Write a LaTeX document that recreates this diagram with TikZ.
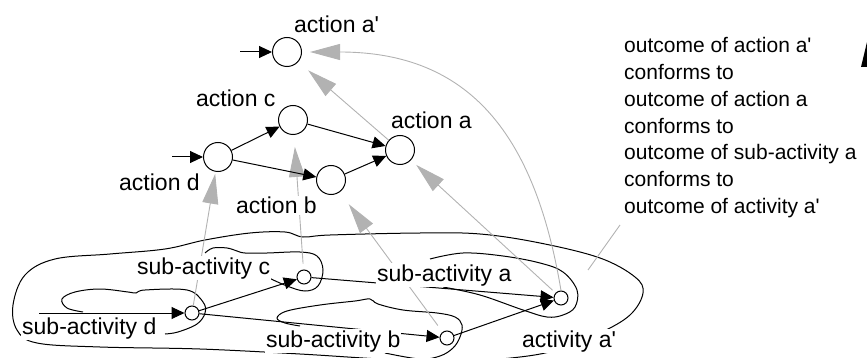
\documentclass[tikz,border=0pt]{standalone}
\usepackage{fontspec}
\setmainfont{Liberation Sans}
\usetikzlibrary{arrows.meta}
\newcommand{\apos}{\textquotesingle}
\begin{document}
\begin{tikzpicture}[x=1pt,y=-1pt,
  big/.style={circle,draw,line width=1pt,minimum size=29pt,inner sep=0pt,fill=white},
  small/.style={circle,draw,line width=1pt,minimum size=14pt,inner sep=0pt,fill=white},
  lbl/.style={font=\fontsize{23}{27}\selectfont,fill=white,inner sep=1pt,anchor=base west},
  txt/.style={font=\fontsize{21}{26}\selectfont,inner sep=0pt,anchor=base west},
  flow/.style={line width=1pt,-{Triangle[length=13pt,width=12pt]}},
  conf/.style={draw=black!30,line width=0.9pt,-{Triangle[length=30pt,width=16pt,fill=black!30]}},
  bubble/.style={line width=1pt},
]
\useasboundingbox (0,0) rectangle (867,358);
\clip (0,0) rectangle (867,358);
% actions
\node[big] (ap) at (287,52) {};
\node[big] (ac) at (293,120) {};
\node[big] (ad) at (218,157) {};
\node[big] (aa) at (400,150) {};
\node[big] (ab) at (331,180) {};
% sub-activities
\node[small] (sd) at (192,313) {};
\node[small] (sc) at (304,277) {};
\node[small] (sb) at (447,338) {};
\node[small] (aap) at (561,298) {};
% bubbles
\draw[bubble] plot[smooth cycle,tension=0.6] coordinates {(13,305) (25,275) (55,259) (110,254) (165,249) (205,240) (250,233) (285,232) (303,237) (330,235) (420,233) (480,234) (540,243) (600,258) (635,277) (643,293) (630,315) (600,333) (560,349) (520,357) (450,362) (380,359) (300,354) (200,349) (100,347) (37,343) (17,330)};
\draw[bubble] plot[smooth,tension=0.6] coordinates {(83,312) (67,308) (62,299) (75,292) (100,289) (128,292) (136,293) (145,290) (187,290) (203,302) (205,313) (197,324) (178,332) (165,334)};
\draw[bubble] plot[smooth,tension=0.6] coordinates {(205,253) (213,248) (227,248) (237,251) (245,253) (267,253) (300,252) (317,256) (323,270) (318,286) (305,291) (287,286) (267,277)};
\draw[bubble] plot[smooth,tension=0.6] coordinates {(430,259) (463,253) (503,256) (540,263) (563,272) (577,290) (575,307) (563,315) (547,317) (523,310) (480,295) (443,287)};
\draw[bubble] plot[smooth,tension=0.6] coordinates {(300,326) (285,323) (277,318) (287,311) (320,305) (355,301) (370,299) (378,304) (403,310) (437,313) (455,317) (462,325) (460,337) (453,348) (440,356) (420,359) (385,353)};
% conformance arrows
\draw[conf,shorten >=2pt] (sd) -- (ad);
\draw[conf,shorten <=6pt,shorten >=12pt] (sc) -- (ac);
\draw[conf,shorten <=8pt,shorten >=15pt] (sb) -- (ab);
\draw[conf,shorten <=4pt,shorten >=7pt] (aap) -- (aa);
\draw[conf,shorten >=13pt] (aa) -- (ap);
\draw[conf,shorten >=8pt] (aap.north) .. controls (535,135) and (470,52) .. (ap.east);
\coordinate (n1) at (620,225);
\coordinate (n2) at (588,270);
\draw[black!30,line width=0.9pt] (n1) -- (n2);
% flow arrows
\coordinate (inap) at (240,52);
\coordinate (inad) at (172,157);
\coordinate (insd) at (39,313);
\draw[flow] (inap) -- (ap);
\draw[flow] (inad) -- (ad);
\draw[flow] (insd) -- (sd);
\draw[flow] (ad) -- (ac);
\draw[flow] (ad) -- (ab);
\draw[flow] (ac) -- (aa);
\draw[flow] (ab) -- (aa);
\draw[flow] (sd) -- (sc);
\draw[flow] (sd) -- (sb);
\draw[flow] (sc) -- (aap);
\draw[flow] (sb) -- (aap);
% labels
\node[lbl] (lap) at (293,33) {action a\apos};
\node[lbl] (lac) at (195,107) {action c};
\node[lbl] (lad) at (118,190) {action d};
\node[lbl] (laa) at (390,129) {action a};
\node[lbl] (lab) at (235,214) {action b};
\node[lbl] (lsc) at (136,274) {sub-activity c};
\node[lbl] (lsd) at (21,334) {sub-activity d};
\node[lbl] (lsb) at (265,347) {sub-activity b};
\node[lbl] (lsa) at (376,281) {sub-activity a};
\node[lbl] (laap) at (521,347) {activity a\apos};
% annotation
\node[txt] (t1) at (624,53) {outcome of action a\apos};
\node[txt] (t2) at (624,79.7) {conforms to};
\node[txt] (t3) at (624,106.4) {outcome of action a};
\node[txt] (t4) at (624,133.1) {conforms to};
\node[txt] (t5) at (624,159.8) {outcome of sub-activity a};
\node[txt] (t6) at (624,186.5) {conforms to};
\node[txt] (t7) at (624,213.2) {outcome of activity a\apos};
% cropped mark at top right
\fill (861,67) -- (867,67) -- (867,42) -- cycle;
\end{tikzpicture}
\end{document}
